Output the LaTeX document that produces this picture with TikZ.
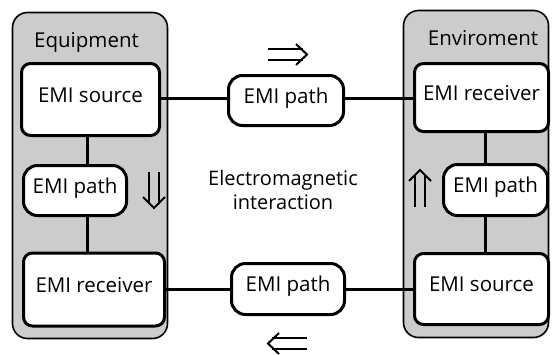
\documentclass[tikz,border=0pt]{standalone}
\usepackage{fontspec}
\setmainfont{Open Sans}
\begin{document}
\begin{tikzpicture}[x=1pt,y=-1pt,
  grp/.style={draw=black, line width=1.6pt, fill=gray!40, rounded corners=15pt, inner sep=0pt},
  box/.style={draw=black, line width=3pt, fill=white, rounded corners=9pt, inner sep=0pt,
              font=\fontsize{20.5}{24}\selectfont, text height=0.72em, text depth=0.22em},
  pbox/.style={box, rounded corners=14pt},
  lbl/.style={font=\fontsize{20.5}{24}\selectfont, inner sep=0pt, anchor=base},
  wire/.style={line width=3pt},
  dar/.style={line width=2pt}]
\useasboundingbox (0,0) rectangle (553,354);
% groups
\node[grp, minimum width=155, minimum height=326] (Leq) at (90,175.5) {};
\node[grp, minimum width=145, minimum height=327] (Renv) at (476,174) {};
\node[lbl] (Leqt) at (86.5,47) {Equipment};
\node[lbl] (Rent) at (483,45) {Enviroment};
% boxes
\node[box, minimum width=138, minimum height=72] (Lsrc) at (90.5,99.5) {EMI source};
\node[pbox, minimum width=103, minimum height=50] (Lpath) at (75,190.5) {EMI path};
\node[box, minimum width=141, minimum height=73] (Lrec) at (94,289.5) {EMI receiver};
\node[pbox, minimum width=115, minimum height=50] (Tpath) at (286,100.5) {EMI path};
\node[pbox, minimum width=113, minimum height=51] (Bpath) at (288,289) {EMI path};
\node[box, minimum width=134, minimum height=68] (Rrec) at (481.5,97.5) {EMI receiver};
\node[pbox, minimum width=104, minimum height=51] (Rpath) at (495.5,190) {EMI path};
\node[box, minimum width=134, minimum height=71] (Rsrc) at (481.5,289) {EMI source};
% connectors
\coordinate (cl) at (87,0);
\coordinate (cr) at (485,0);
\coordinate (ht) at (0,98.5);
\coordinate (hb) at (0,289);
\draw[wire] (cl |- Lsrc.south) -- (cl |- Lpath.north);
\draw[wire] (cl |- Lpath.south) -- (cl |- Lrec.north);
\draw[wire] (cr |- Rrec.south) -- (cr |- Rpath.north);
\draw[wire] (cr |- Rpath.south) -- (cr |- Rsrc.north);
\draw[wire] (Lsrc.east |- ht) -- (Tpath.west |- ht);
\draw[wire] (Tpath.east |- ht) -- (Rrec.west |- ht);
\draw[wire] (Lrec.east |- hb) -- (Bpath.west |- hb);
\draw[wire] (Bpath.east |- hb) -- (Rsrc.west |- hb);
% middle text
\node[font=\fontsize{20}{23.5}\selectfont, align=center, inner sep=0pt] (emt) at (283,190) {Electromagnetic\\interaction};
% double arrows
\draw[dar] (268,49) -- (303,49) (268,60) -- (303,60);
\draw[dar, line join=miter] (296,44) -- (307,54.5) -- (296,65);
\draw[dar] (272,338) -- (307,338) (272,349) -- (307,349);
\draw[dar, line join=miter] (279,333) -- (268,343.5) -- (279,354);
\draw[dar] (149,172) -- (149,204) (159,172) -- (159,204);
\draw[dar, line join=miter] (143,197) -- (154,208) -- (165,197);
\draw[dar] (415,207) -- (415,175) (425,207) -- (425,175);
\draw[dar, line join=miter] (409,181) -- (420,170) -- (431,181);
\end{tikzpicture}
\end{document}
